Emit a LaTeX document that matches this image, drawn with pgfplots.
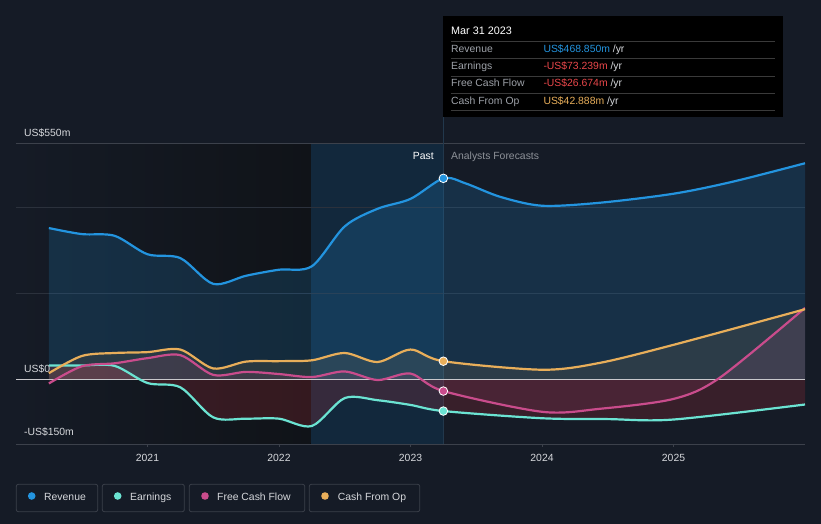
\documentclass[border=0pt]{standalone}
\usepackage{fontspec}
\setmainfont{Liberation Sans}
\usepackage{pgfplots}
\usepackage{pgfplotstable}
\pgfplotsset{compat=1.18}

\definecolor{bg}{HTML}{151B26}
\definecolor{rev}{HTML}{2394DF}
\definecolor{earn}{HTML}{6BE3D2}
\definecolor{fcf}{HTML}{C94C8C}
\definecolor{cfo}{HTML}{E8AE5A}
\definecolor{gridc}{HTML}{2B313C}
\definecolor{axc}{HTML}{3C414B}
\definecolor{zeroc}{HTML}{C8C8CC}
\definecolor{pastdark}{HTML}{101318}
\definecolor{hl}{HTML}{12283C}
\definecolor{txt}{HTML}{D6D8DC}
\definecolor{mut}{HTML}{9EA2A9}
\definecolor{fore}{HTML}{8E9299}
\definecolor{sep}{HTML}{3A3A3A}
\definecolor{legb}{HTML}{3B404A}
\definecolor{neg}{HTML}{E8474A}
\definecolor{vline}{HTML}{22384C}
\definecolor{redfill}{HTML}{C8323C}

% revenue, US$m
\pgfplotstableread{
x y
2020.25 353
2020.5 339
2020.75 335
2021.0 292
2021.25 283
2021.5 223
2021.75 242
2022.0 256
2022.25 264
2022.5 357
2022.75 398
2023.0 421
2023.25 468.85
2023.42 457
2023.68 426
2024.0 405
2024.44 412
2025.0 433
2025.45 461
2026.0 504
}\revdata

% earnings
\pgfplotstableread{
x y
2020.25 33
2020.5 33
2020.75 32
2021.0 -8
2021.25 -18
2021.5 -88
2021.75 -91
2022.0 -91
2022.25 -108
2022.5 -43
2022.75 -48
2023.0 -59
2023.25 -73.239
2024.0 -90
2024.5 -92
2025.0 -93
2026.0 -58
}\earndata

% free cash flow
\pgfplotstableread{
x y
2020.25 -9
2020.5 31
2020.75 38
2021.0 50
2021.25 57
2021.5 11
2021.75 18
2022.0 13
2022.25 6
2022.5 19
2022.75 -1
2023.0 14
2023.25 -26.674
2024.0 -75
2024.44 -68
2025.0 -45
2025.35 4
2026.0 167
}\fcfdata

% cash from operations
\pgfplotstableread{
x y
2020.25 15
2020.5 55
2020.75 62
2021.0 64
2021.25 70
2021.5 26
2021.75 42
2022.0 43
2022.25 45
2022.5 62
2022.75 41
2023.0 70
2023.25 42.888
2024.0 23
2024.44 39
2025.0 81
2026.0 164
}\cfodata

\newcommand{\fs}{\fontsize{10.4bp}{12bp}\selectfont}

\begin{document}
\begin{tikzpicture}
\fill[bg, use as bounding box] (0,0) rectangle (821bp,524bp);

\begin{axis}[
  at={(16bp,80bp)}, anchor=south west,
  width=789bp, height=300.5bp, scale only axis,
  xmin=2020, xmax=2026, ymin=-150, ymax=550,
  axis x line*=bottom, axis y line=none,
  x axis line style={draw=axc, line width=0.8bp},
  xtick={2021,2022,2023,2024,2025},
  xticklabels={2021,2022,2023,2024,2025},
  xtick style={draw=axc, line width=0.8bp},
  major tick length=3bp, tick align=outside,
  xticklabel style={font=\fs, text=txt, anchor=north, inner sep=0pt, yshift=-7bp},
  /pgf/number format/assume math mode=true,
]
\fill[left color=bg, right color=pastdark] (2020,-150) rectangle (2022.24,550);
\fill[hl] (2022.24,-150) rectangle (2023.25,550);
\draw[gridc, line width=0.8bp] (2020,200) -- (2026,200);
\draw[gridc, line width=0.8bp] (2020,400) -- (2026,400);
\draw[axc, line width=0.8bp] (2020,550) -- (2026,550);
\draw[vline, line width=1bp] (2023.25,-150) -- (2023.25,550);

\addplot[draw=none, fill=rev, fill opacity=0.18, smooth, tension=0.5] table {\revdata} \closedcycle;
\addplot[draw=none, fill=redfill, fill opacity=0.2, smooth, tension=0.5] table {\earndata} \closedcycle;
\addplot[draw=none, fill=fcf, fill opacity=0.12, smooth, tension=0.5] table {\fcfdata} \closedcycle;
\addplot[draw=none, fill=cfo, fill opacity=0.1, smooth, tension=0.5] table {\cfodata} \closedcycle;

\draw[axc, line width=0.8bp] (2020,-150) -- (2026,-150);
\draw[zeroc, line width=1.2bp] (2020,0) -- (2026,0);

\addplot[rev, line width=2.2bp, smooth, tension=0.5] table {\revdata};
\addplot[earn, line width=2.2bp, smooth, tension=0.5] table {\earndata};
\addplot[fcf, line width=2.2bp, smooth, tension=0.5] table {\fcfdata};
\addplot[cfo, line width=2.2bp, smooth, tension=0.5] table {\cfodata};

\addplot[only marks, mark=*, mark size=4.3bp, mark options={fill=rev, draw=white, line width=0.8bp}] coordinates {(2023.25,468.85)};
\addplot[only marks, mark=*, mark size=4.3bp, mark options={fill=earn, draw=white, line width=0.8bp}] coordinates {(2023.25,-73.239)};
\addplot[only marks, mark=*, mark size=4.3bp, mark options={fill=fcf, draw=white, line width=0.8bp}] coordinates {(2023.25,-26.674)};
\addplot[only marks, mark=*, mark size=4.3bp, mark options={fill=cfo, draw=white, line width=0.8bp}] coordinates {(2023.25,42.888)};
\end{axis}

% y labels
\node[anchor=base west, inner sep=0, text=txt, font=\fs] at (24bp,387bp) {US\$550m};
\node[anchor=base west, inner sep=0, text=txt, font=\fs] at (24bp,151bp) {US\$0};
\node[anchor=base west, inner sep=0, text=txt, font=\fs] at (24bp,88bp) {-US\$150m};

% past / forecast
\node[anchor=base east, inner sep=0, text=white, font=\fs] at (434bp,364bp) {Past};
\node[anchor=base west, inner sep=0, text=fore, font=\fs] at (451bp,364bp) {Analysts Forecasts};

% line above the axis to the tooltip
\draw[vline, line width=1bp] (443bp,380bp) -- (443bp,407bp);

% tooltip
\fill[black] (443bp,407bp) rectangle (782.7bp,508bp);
\node[anchor=base west, inner sep=0, text=white, font=\fontsize{10.8bp}{12bp}\selectfont] at (451bp,489bp) {Mar 31 2023};
\foreach \yy in {482.3,465.3,448,430.7,413.3} {
  \draw[sep, line width=0.8bp] (451bp,\yy bp) -- (775bp,\yy bp);
}
\node[anchor=base west, inner sep=0, text=mut, font=\fs] at (451bp,471bp) {Revenue};
\node[anchor=base west, inner sep=0, text=mut, font=\fs] at (451bp,454bp) {Earnings};
\node[anchor=base west, inner sep=0, text=mut, font=\fs] at (451bp,437bp) {Free Cash Flow};
\node[anchor=base west, inner sep=0, text=mut, font=\fs] at (451bp,419.5bp) {Cash From Op};
\node[anchor=base west, inner sep=0, font=\fs] at (543.3bp,471bp) {\textcolor{rev}{US\$468.850m} \textcolor{txt}{/yr}};
\node[anchor=base west, inner sep=0, font=\fs] at (543.3bp,454bp) {\textcolor{neg}{-US\$73.239m} \textcolor{txt}{/yr}};
\node[anchor=base west, inner sep=0, font=\fs] at (543.3bp,437bp) {\textcolor{neg}{-US\$26.674m} \textcolor{txt}{/yr}};
\node[anchor=base west, inner sep=0, font=\fs] at (543.3bp,419.5bp) {\textcolor{cfo}{US\$42.888m} \textcolor{txt}{/yr}};

% legend
\draw[legb, line width=0.8bp, rounded corners=2bp] (16.3bp,12.3bp) rectangle (97.7bp,39.7bp);
\draw[legb, line width=0.8bp, rounded corners=2bp] (102.3bp,12.3bp) rectangle (184.3bp,39.7bp);
\draw[legb, line width=0.8bp, rounded corners=2bp] (189.3bp,12.3bp) rectangle (304.7bp,39.7bp);
\draw[legb, line width=0.8bp, rounded corners=2bp] (309.3bp,12.3bp) rectangle (419.7bp,39.7bp);
\fill[rev] (31.7bp,28bp) circle (3.8bp);
\fill[earn] (117.7bp,28bp) circle (3.8bp);
\fill[fcf] (205bp,28bp) circle (3.8bp);
\fill[cfo] (325bp,28bp) circle (3.8bp);
\node[anchor=base west, inner sep=0, text=txt, font=\fs] at (44bp,23.5bp) {Revenue};
\node[anchor=base west, inner sep=0, text=txt, font=\fs] at (130bp,23.5bp) {Earnings};
\node[anchor=base west, inner sep=0, text=txt, font=\fs] at (217bp,23.5bp) {Free Cash Flow};
\node[anchor=base west, inner sep=0, text=txt, font=\fs] at (337.7bp,23.5bp) {Cash From Op};
\end{tikzpicture}
\end{document}
